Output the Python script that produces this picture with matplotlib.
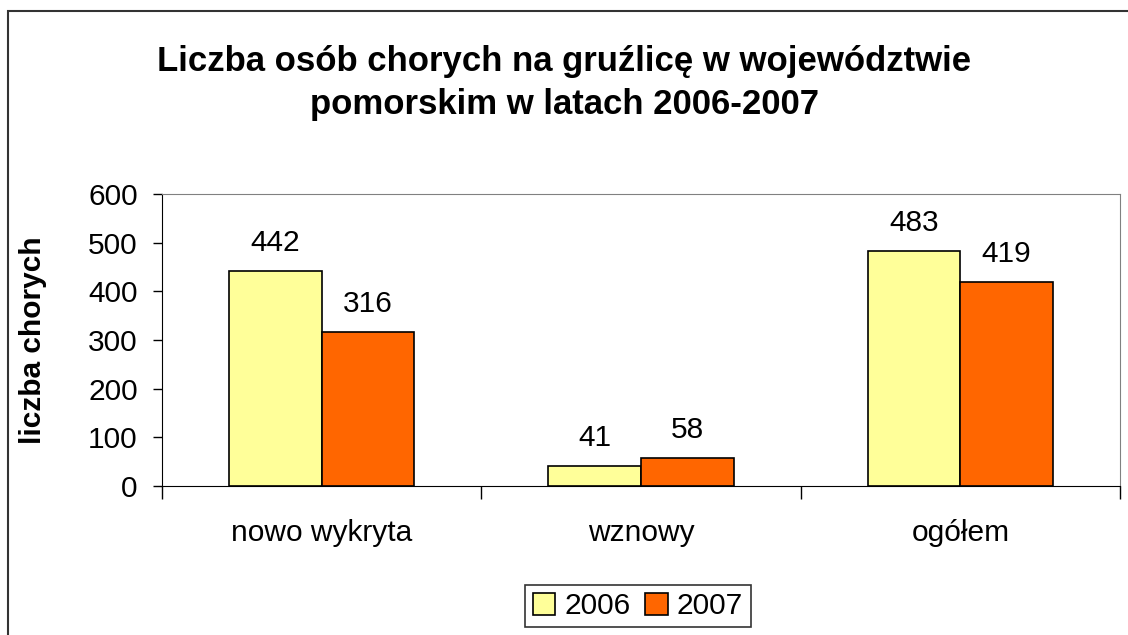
import numpy as np
import matplotlib.pyplot as plt
from matplotlib.patches import Rectangle

plt.rcParams['font.family'] = ['Liberation Sans', 'DejaVu Sans']

# dane
kategorie = ['nowo wykryta', 'wznowy', 'ogółem']
lata = ['2006', '2007']
chorzy_2006 = [442, 41, 483]
chorzy_2007 = [316, 58, 419]
kolory = ['#FFFF99', '#FF6600']

fs = 21.5

fig = plt.figure(figsize=(11.28, 6.35), dpi=100)
ax = fig.add_axes([162 / 1128, 1 - 486 / 635, (1120 - 162) / 1128, (486 - 194) / 635])

# ramka wokół całego wykresu
fig.patches.append(Rectangle((8 / 1128, -0.05), 1.2, 0.05 + 1 - 11 / 635,
                             transform=fig.transFigure, fill=False,
                             edgecolor='#333333', linewidth=1.5))

x = np.arange(len(kategorie))
w = 0.29
b1 = ax.bar(x - w / 2, chorzy_2006, w, color=kolory[0], edgecolor='black', linewidth=1.2, label=lata[0])
b2 = ax.bar(x + w / 2, chorzy_2007, w, color=kolory[1], edgecolor='black', linewidth=1.2, label=lata[1])
ax.bar_label(b1, padding=10, fontsize=fs)
ax.bar_label(b2, padding=10, fontsize=fs)

ax.set_xlim(-0.5, 2.5)
ax.set_ylim(0, 600)
ax.set_yticks(range(0, 601, 100))
ax.tick_params(axis='y', labelsize=fs, length=6.5, width=1, pad=11)
ax.set_xticks(x)
ax.set_xticklabels(kategorie, fontsize=fs)
ax.tick_params(axis='x', length=0, pad=24)
ax.set_xticks([-0.5, 0.5, 1.5, 2.5], minor=True)
ax.tick_params(axis='x', which='minor', length=9, width=1, direction='out')

for s in ['top', 'right']:
    ax.spines[s].set_color('#808080')
for s in ['left', 'bottom']:
    ax.spines[s].set_color('black')

ax.set_ylabel('liczba chorych', fontsize=fs, fontweight='bold')
ax.yaxis.set_label_coords((47 - 162) / 958, 0.5)

fig.text(0.5, 1 - 83 / 635, 'Liczba osób chorych na gruźlicę w województwie\npomorskim w latach 2006-2007',
         ha='center', va='center', fontsize=25, fontweight='bold', linespacing=1.35)

leg = fig.legend(loc='center', bbox_to_anchor=(638 / 1128, 1 - 606 / 635), ncol=2, fontsize=fs,
                 frameon=True, fancybox=False, edgecolor='black', handlelength=0.75, handleheight=0.75,
                 handletextpad=0.3, columnspacing=0.5, borderpad=0.25, borderaxespad=0)
leg.get_frame().set_linewidth(1.2)

plt.savefig('out.png', dpi=100)
